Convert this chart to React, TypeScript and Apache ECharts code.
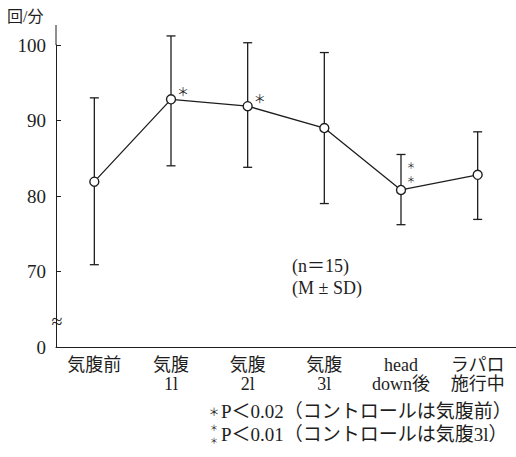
import React, { useEffect, useRef } from "react";
import * as echarts from "echarts";

const categories = ["気腹前", "気腹\n1l", "気腹\n2l", "気腹\n3l", "head\ndown後", "ラパロ\n施行中"];
const means = [81.9, 92.8, 91.9, 89.0, 80.8, 82.8];
const upper = [93.0, 101.2, 100.3, 99.0, 85.5, 88.5];
const lower = [70.9, 84.0, 83.8, 79.0, 76.2, 76.9];
const marks = ["", "*", "*", "", "**", ""];
const yTickValues = [60, 70, 80, 90, 100];
const yTickLabels = ["0", "70", "80", "90", "100"];
const yAxisName = "回/分";
const noteLines = ["(n＝15)", "(M ± SD)"];
const footnote1 = "P＜0.02（コントロールは気腹前）";
const footnote2 = "P＜0.01（コントロールは気腹3l）";

const FONT = '"Liberation Serif", "DejaVu Serif", "Noto Sans CJK JP", serif';
const STARFONT = '"Noto Sans CJK JP", sans-serif';
const INK = "#1e1e1e";

export default function App() {
  const ref = useRef<HTMLDivElement>(null);
  useEffect(() => {
    if (!ref.current) return;
    const chart = echarts.init(ref.current, null, { renderer: "svg" });
    const star = (x: number, y: number, size: number, count: number, lh: number) => ({
      type: "text",
      x,
      y,
      style: {
        text: count === 2 ? "＊\n＊" : "＊", fill: INK, fontSize: size, fontFamily: STARFONT,
        lineHeight: lh, align: "center", verticalAlign: "middle",
      },
    });
    const option: any = {
      animation: false,
      backgroundColor: "#ffffff",
      grid: { left: 56, right: 0, top: 45, bottom: 110 },
      xAxis: {
        type: "category",
        data: categories,
        boundaryGap: true,
        axisLine: { lineStyle: { color: INK, width: 1 } },
        axisTick: { inside: true, alignWithLabel: true, length: 6, lineStyle: { color: INK } },
        axisLabel: {
          color: INK,
          fontFamily: FONT,
          fontSize: 18,
          lineHeight: 19,
          margin: 8,
          interval: 0,
        },
      },
      yAxis: {
        type: "value",
        min: 60,
        max: 100,
        interval: 10,
        splitLine: { show: false },
        axisLine: { show: true, lineStyle: { color: INK, width: 1 } },
        axisTick: { show: true, inside: true, length: 5, lineStyle: { color: INK } },
        axisLabel: {
          color: INK,
          fontFamily: FONT,
          fontSize: 19,
          margin: 10,
          formatter: (v: number) => {
            const i = yTickValues.indexOf(v);
            return i >= 0 ? yTickLabels[i] : "";
          },
        },
      },
      series: [
        {
          type: "custom",
          z: 2,
          data: categories.map((_, i) => [i, upper[i], lower[i]]),
          renderItem: (params: any, api: any) => {
            const idx = params.dataIndex;
            const x = api.value(0);
            const hi = api.coord([x, api.value(1)]);
            const lo = api.coord([x, api.value(2)]);
            const pt = api.coord([x, means[idx]]);
            const cap = 4.5;
            const style = { stroke: INK, lineWidth: 1.3 };
            const children: any[] = [
              { type: "line", shape: { x1: hi[0], y1: hi[1], x2: lo[0], y2: lo[1] }, style },
              { type: "line", shape: { x1: hi[0] - cap, y1: hi[1], x2: hi[0] + cap, y2: hi[1] }, style },
              { type: "line", shape: { x1: lo[0] - cap, y1: lo[1], x2: lo[0] + cap, y2: lo[1] }, style },
            ];
            const m = marks[idx];
            if (m === "*") {
              children.push(star(pt[0] + 12, pt[1] - 8, 12, 1, 14));
            } else if (m === "**") {
              children.push(star(pt[0] + 10, pt[1] - 17.5, 9, 2, 13.5));
            }
            return { type: "group", children };
          },
        },
        {
          type: "line",
          z: 3,
          data: means,
          symbol: "circle",
          symbolSize: 9,
          lineStyle: { color: INK, width: 1.3 },
          itemStyle: { color: "#ffffff", borderColor: INK, borderWidth: 1.4 },
        },
      ],
      graphic: [
        { type: "line", shape: { x1: 56, y1: 25, x2: 56, y2: 45 }, style: { stroke: INK, lineWidth: 1 } },
        {
          type: "text", left: 7, top: 8,
          style: { text: yAxisName, fill: INK, fontSize: 16, fontFamily: FONT },
        },
        {
          type: "text", x: 57, y: 321,
          style: { text: "≈", fill: INK, fontSize: 20, fontFamily: FONT, align: "center", verticalAlign: "middle" },
        },
        {
          type: "text", x: 292, y: 266,
          style: { text: noteLines[0], fill: INK, fontSize: 18, fontFamily: FONT, verticalAlign: "middle" },
        },
        {
          type: "text", x: 292, y: 288,
          style: { text: noteLines[1], fill: INK, fontSize: 18, fontFamily: FONT, verticalAlign: "middle" },
        },
        star(214, 411, 11, 1, 14),
        {
          type: "text", x: 221, y: 411,
          style: { text: footnote1, fill: INK, fontSize: 19, fontFamily: FONT, verticalAlign: "middle" },
        },
        star(214, 433.5, 8.5, 2, 12.5),
        {
          type: "text", x: 221, y: 434,
          style: { text: footnote2, fill: INK, fontSize: 19, fontFamily: FONT, verticalAlign: "middle" },
        },
      ],
    };
    chart.setOption(option);
    return () => chart.dispose();
  }, []);
  return <div ref={ref} style={{ width: 516, height: 457, position: "absolute", left: 0, top: 0 }} />;
}
